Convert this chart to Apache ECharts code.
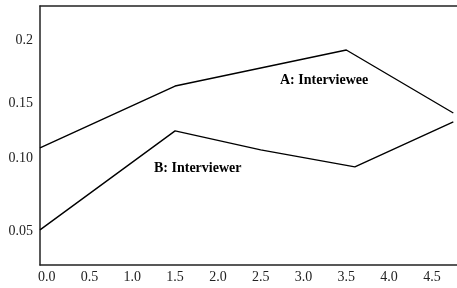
<!DOCTYPE html>
<html>
<head>
<meta charset="utf-8">
<script src="https://cdn.jsdelivr.net/npm/echarts@6/dist/echarts.min.js"></script>
<style>
  html, body { margin: 0; padding: 0; background: #fff; }
  #main { width: 457px; height: 288px; }
</style>
</head>
<body>
<div id="main"></div>
<script>
// series: [x, y]
let intervieweeA = [[-0.078, 0.1133], [1.5, 0.1624], [3.5, 0.191], [4.75, 0.141]];
let interviewerB = [[-0.078, 0.0483], [1.5, 0.1268], [2.5, 0.1117], [3.6, 0.0983], [4.75, 0.1339]];

// tick labels; the y labels in the original are not evenly spaced,
// so they sit at the positions where they are drawn
let xTicks = [0, 0.5, 1, 1.5, 2, 2.5, 3, 3.5, 4, 4.5];
let yTickPos = [0.047, 0.105, 0.149, 0.199];
let yTickLabels = ['0.05', '0.10', '0.15', '0.2'];

let font = '"Liberation Serif", "Times New Roman", serif';

let myChart = echarts.init(document.getElementById('main'));

let option = {
    animation: false,
    grid: { left: 40, right: 0, top: 6, bottom: 23 },
    xAxis: [
        {
            type: 'value',
            min: -0.078,
            max: 4.793,
            axisLine: { show: true, lineStyle: { color: '#222', width: 1.5 } },
            axisTick: { show: false },
            splitLine: { show: false },
            axisLabel: {
                customValues: xTicks,
                margin: 5,
                color: '#222',
                fontFamily: font,
                fontSize: 14,
                formatter: (v) => v.toFixed(1)
            }
        },
        {
            type: 'value',
            position: 'top',
            min: -0.078,
            max: 4.793,
            axisLine: { show: true, onZero: false, lineStyle: { color: '#222', width: 1.5 } },
            axisTick: { show: false },
            splitLine: { show: false },
            axisLabel: { show: false }
        }
    ],
    yAxis: {
        type: 'value',
        min: 0.0204,
        max: 0.2259,
        axisLine: { show: true, onZero: false, lineStyle: { color: '#222', width: 1.5 } },
        axisTick: { show: false },
        splitLine: { show: false },
        axisLabel: {
            customValues: yTickPos,
            margin: 7,
            color: '#222',
            fontFamily: font,
            fontSize: 14,
            formatter: (v) => yTickLabels[yTickPos.indexOf(v)]
        }
    },
    graphic: [
        {
            type: 'text', x: 280, y: 80,
            style: { text: 'A: Interviewee', font: 'bold 14px ' + font, fill: '#000', textVerticalAlign: 'middle', verticalAlign: 'middle' }
        },
        {
            type: 'text', x: 154, y: 168,
            style: { text: 'B: Interviewer', font: 'bold 14px ' + font, fill: '#000', textVerticalAlign: 'middle', verticalAlign: 'middle' }
        }
    ],
    series: [
        {
            name: 'A: Interviewee',
            type: 'line',
            data: intervieweeA,
            showSymbol: false,
            lineStyle: { color: '#000', width: 1.4 }
        },
        {
            name: 'B: Interviewer',
            type: 'line',
            data: interviewerB,
            showSymbol: false,
            lineStyle: { color: '#000', width: 1.4 }
        }
    ]
};

myChart.setOption(option);
</script>
</body>
</html>
